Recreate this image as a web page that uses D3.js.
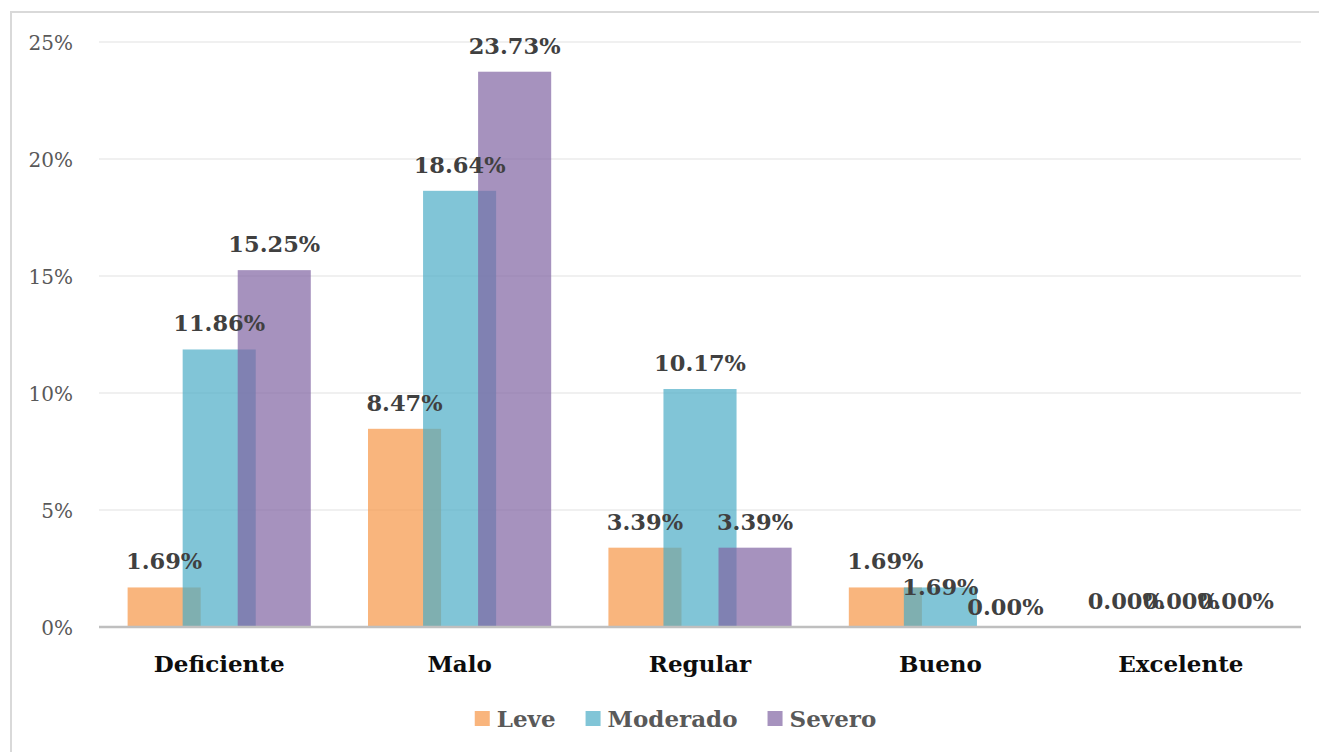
<!DOCTYPE html>
<html>
<head>
<meta charset="utf-8">
<script src="https://cdn.jsdelivr.net/npm/d3@7"></script>
<style>
  html, body { margin: 0; padding: 0; background: #fff; }
  svg { display: block; }
</style>
</head>
<body>
<svg id="chart" width="1319" height="752"></svg>
<script>
const categories = ["Deficiente", "Malo", "Regular", "Bueno", "Excelente"];
const seriesNames = ["Leve", "Moderado", "Severo"];
const leve = [1.69, 8.47, 3.39, 1.69, 0.00];
const moderado = [11.86, 18.64, 10.17, 1.69, 0.00];
const severo = [15.25, 23.73, 3.39, 0.00, 0.00];
const yTicks = [0, 5, 10, 15, 20, 25];

const seriesValues = [leve, moderado, severo];
const colors = ["#F79646", "#4BACC6", "#8064A2"];

const svg = d3.select("#chart");
const W = 1319, H = 752;
const plot = { left: 99, right: 1301, top: 42, bottom: 627 };

// frame
svg.append("path")
  .attr("d", `M11,${H} L11,12 L${W},12`)
  .attr("fill", "none").attr("stroke", "#D9D9D9").attr("stroke-width", 2);

const x = d3.scaleBand().domain(categories).range([plot.left, plot.right]).padding(0);
const y = d3.scaleLinear().domain([0, 25]).range([plot.bottom, plot.top]);

// gridlines
svg.append("g").selectAll("line").data(yTicks.filter(t => t > 0)).join("line")
  .attr("x1", plot.left).attr("x2", plot.right)
  .attr("y1", d => y(d)).attr("y2", d => y(d))
  .attr("stroke", "#EBEBEB").attr("stroke-width", 1.5);

// y axis labels
const yAxis = d3.axisLeft(y).tickValues(yTicks).tickFormat(d => d + "%").tickSize(0).tickPadding(0);
const yg = svg.append("g").attr("transform", `translate(73,0)`).call(yAxis);
yg.select(".domain").remove();
yg.selectAll("text")
  .attr("font-family", "DejaVu Serif").attr("font-size", 20).attr("fill", "#595959")
  .attr("dy", "0.36em");

const bw = x.bandwidth();
const barW = bw * 0.304;
const step = bw * 0.229;

// bars
seriesValues.forEach((vals, si) => {
  svg.append("g").selectAll("rect").data(vals.map((v, i) => ({ v, c: categories[i] }))).join("rect")
    .attr("x", d => x(d.c) + bw / 2 + (si - 1) * step - barW / 2)
    .attr("width", barW)
    .attr("y", d => y(d.v))
    .attr("height", d => y(0) - y(d.v))
    .attr("fill", colors[si]).attr("fill-opacity", 0.7);
});

// x axis line
svg.append("line")
  .attr("x1", plot.left).attr("x2", plot.right)
  .attr("y1", y(0)).attr("y2", y(0))
  .attr("stroke", "#BFBFBF").attr("stroke-width", 2.5);

// category labels
const xAxis = d3.axisBottom(x).tickSize(0).tickPadding(0);
const xg = svg.append("g").attr("transform", `translate(0,${y(0)})`).call(xAxis);
xg.select(".domain").remove();
xg.selectAll("text")
  .attr("font-family", "DejaVu Serif").attr("font-weight", "bold").attr("font-size", 23)
  .attr("fill", "#0D0D0D").attr("dy", null).attr("y", 45);

// data labels (with manual nudges as in the reference)
const nudge = { "3-1": [0, 26], "3-2": [10, 6] };
seriesValues.forEach((vals, si) => {
  svg.append("g").selectAll("text").data(vals.map((v, i) => ({ v, i }))).join("text")
    .attr("x", d => x(categories[d.i]) + bw / 2 + (si - 1) * step + ((nudge[d.i + "-" + si] || [0, 0])[0]))
    .attr("y", d => y(d.v) - 18 + ((nudge[d.i + "-" + si] || [0, 0])[1]))
    .attr("text-anchor", "middle")
    .attr("font-family", "DejaVu Serif").attr("font-weight", "bold").attr("font-size", 22.5)
    .attr("fill", "#404040")
    .text(d => d.v.toFixed(2) + "%");
});

// legend
const lg = svg.append("g");
const items = lg.selectAll("g").data(seriesNames).join("g");
items.append("rect").attr("width", 15).attr("height", 15).attr("y", -12)
  .attr("fill", (d, i) => colors[i]).attr("fill-opacity", 0.7);
items.append("text").attr("x", 22).attr("y", 4)
  .attr("font-family", "DejaVu Serif").attr("font-weight", "bold").attr("font-size", 23)
  .attr("fill", "#595959").text(d => d);
const widths = [];
items.each(function () {
  const tw = d3.select(this).select("text").node().getComputedTextLength();
  widths.push(22 + tw);
});
const total = d3.sum(widths) + 30 * (widths.length - 1);
let cx = 675.5 - total / 2;
items.attr("transform", (d, i) => {
  const t = `translate(${cx},${723})`;
  cx += widths[i] + 30;
  return t;
});
</script>
</body>
</html>
